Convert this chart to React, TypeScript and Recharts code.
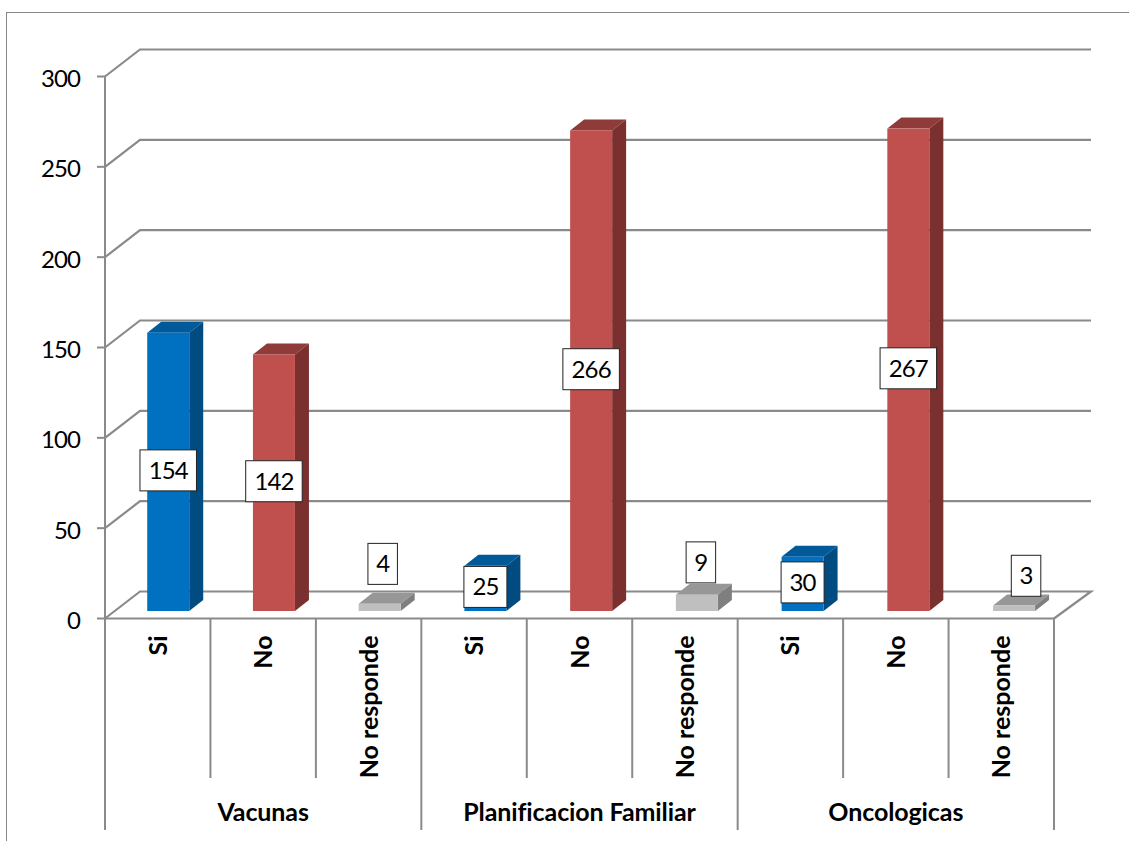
import React from "react";
import { ComposedChart, Bar, XAxis, YAxis, CartesianGrid, LabelList } from "recharts";

const answers = ["Si", "No", "No responde", "Si", "No", "No responde", "Si", "No", "No responde"];
const services = [
  "Vacunas", "Vacunas", "Vacunas",
  "Planificacion Familiar", "Planificacion Familiar", "Planificacion Familiar",
  "Oncologicas", "Oncologicas", "Oncologicas",
];
const counts = [154, 142, 4, 25, 266, 9, 30, 267, 3];
const valueTicks = [0, 50, 100, 150, 200, 250, 300];

const rows = answers.map((answer, i) => ({
  id: i,
  answer,
  service: services[i],
  count: counts[i],
}));

const WIDTH = 1129;
const HEIGHT = 841;
const PLOT_LEFT = 105;
const PLOT_RIGHT = 1054;
const PLOT_TOP = 76.5;
const PLOT_BOTTOM = 618.5;
const SLOT = (PLOT_RIGHT - PLOT_LEFT) / answers.length;

// Oblique projection of the chart's floor and back wall
const WALL_DX = 35;
const WALL_DY = 27;
// Where a column stands on the floor, relative to the front edge;
// the floor is a little wider than the front edge, hence the drift
const BAR_DX = 10.5;
const BAR_DRIFT = 0.0027;
const BAR_DY = 7.5;
// Extrusion of each column
const DEPTH_DX = 14;
const DEPTH_DY = 11;

const AXIS_COLOR = "#8a8a8a";
const FONT = "Lato, Carlito, sans-serif";
const DIGIT_SPACING = -0.9;

const palette: Record<string, { front: string; top: string; side: string }> = {
  Si: { front: "#0070c0", top: "#005a9a", side: "#004b80" },
  No: { front: "#c0504d", top: "#8f3b39", side: "#7a302e" },
  "No responde": { front: "#bfbfbf", top: "#979797", side: "#7f7f7f" },
};

// Boxes of the very short columns sit off to the side and above the column
const labelNudge: Record<number, [number, number]> = {
  2: [3, -43.5],
  5: [4, -40.5],
  8: [12, -32.5],
};

const floorX = (x: number) => x + BAR_DX + (x - PLOT_LEFT) * BAR_DRIFT;

function Column(props: any) {
  const { x, y, width, height, payload } = props;
  const c = palette[payload.answer];
  const l = floorX(x);
  const r = l + width;
  const t = y - BAR_DY;
  const b = t + height;
  return (
    <g>
      <polygon
        points={`${l},${t} ${l + DEPTH_DX},${t - DEPTH_DY} ${r + DEPTH_DX},${t - DEPTH_DY} ${r},${t}`}
        fill={c.top}
      />
      <polygon
        points={`${r},${t} ${r + DEPTH_DX},${t - DEPTH_DY} ${r + DEPTH_DX},${b - DEPTH_DY} ${r},${b}`}
        fill={c.side}
      />
      <rect x={l} y={t} width={width} height={height} fill={c.front} />
    </g>
  );
}

function ValueBox(props: any) {
  const { x, y, width, height, value, index } = props;
  const [nx, ny] = labelNudge[index] ?? [0, -1.5];
  const cx = floorX(x) + width / 2 + nx;
  const cy = y - BAR_DY + height / 2 + ny;
  const text = String(value);
  const w = 16 + 13.5 * text.length;
  const h = 41;
  return (
    <g>
      <rect
        x={cx - w / 2}
        y={cy - h / 2}
        width={w}
        height={h}
        fill="#ffffff"
        stroke="#222222"
        strokeWidth={1}
      />
      <text
        x={cx}
        y={cy + 8.5}
        textAnchor="middle"
        fontFamily={FONT}
        fontSize={24}
        letterSpacing={DIGIT_SPACING}
        fill="#000000"
      >
        {text}
      </text>
    </g>
  );
}

// A horizontal rule on the back wall, joined to the value axis by a slanted segment
function GridRule(props: any) {
  const { y1 } = props;
  const isFloor = Math.abs(y1 - PLOT_BOTTOM) < 1;
  const back = y1 - WALL_DY;
  const points = [
    `${PLOT_LEFT},${y1}`,
    `${PLOT_LEFT + WALL_DX},${back}`,
    `${PLOT_RIGHT + WALL_DX + 2},${back}`,
  ];
  if (isFloor) points.push(`${PLOT_RIGHT},${y1}`);
  return <polyline points={points.join(" ")} fill="none" stroke={AXIS_COLOR} strokeWidth={2.2} />;
}

function ValueTick(props: any) {
  const { y, payload } = props;
  return (
    <g>
      <line x1={PLOT_LEFT - 8} x2={PLOT_LEFT} y1={y} y2={y} stroke={AXIS_COLOR} strokeWidth={2} />
      <text
        x={80}
        y={y + 10.5}
        textAnchor="end"
        fontFamily={FONT}
        fontSize={24}
        letterSpacing={DIGIT_SPACING}
        fill="#000000"
      >
        {payload.value}
      </text>
    </g>
  );
}

function AnswerTick(props: any) {
  const { x, payload, index } = props;
  const top = PLOT_BOTTOM + 17;
  const edge = x + SLOT / 2;
  return (
    <g>
      {index % 3 !== 2 && (
        <line x1={edge} x2={edge} y1={PLOT_BOTTOM} y2={778} stroke={AXIS_COLOR} strokeWidth={2} />
      )}
      <text
        transform={`translate(${x + 9},${top}) rotate(-90)`}
        textAnchor="end"
        fontFamily={FONT}
        fontWeight={700}
        fontSize={25}
        fill="#000000"
      >
        {payload.value}
      </text>
    </g>
  );
}

function ServiceTick(props: any) {
  const { x, payload, index } = props;
  const half = (SLOT * 3) / 2;
  return (
    <g>
      <line x1={x - half} x2={x - half} y1={PLOT_BOTTOM} y2={830} stroke={AXIS_COLOR} strokeWidth={2} />
      {index === 2 && (
        <line x1={x + half} x2={x + half} y1={PLOT_BOTTOM} y2={830} stroke={AXIS_COLOR} strokeWidth={2} />
      )}
      <text
        x={x}
        y={821}
        textAnchor="middle"
        fontFamily={FONT}
        fontWeight={700}
        fontSize={25}
        letterSpacing={-0.1}
        fill="#000000"
      >
        {payload.value}
      </text>
    </g>
  );
}

export default function App() {
  return (
    <div style={{ position: "absolute", left: 0, top: 0, width: WIDTH, height: HEIGHT, overflow: "hidden" }}>
      <div
        style={{
          position: "absolute",
          left: 6,
          top: 12,
          width: WIDTH,
          height: HEIGHT,
          borderLeft: "1px solid #868686",
          borderTop: "1px solid #868686",
        }}
      />
      <ComposedChart
        width={WIDTH}
        height={HEIGHT}
        data={rows}
        barCategoryGap="30%"
        margin={{ top: PLOT_TOP, right: WIDTH - PLOT_RIGHT, bottom: 1, left: 0 }}
        style={{ position: "absolute", left: 0, top: 0 }}
      >
        <CartesianGrid vertical={false} horizontal={(p: any) => <GridRule {...p} />} />
        <XAxis
          dataKey="answer"
          xAxisId={0}
          height={160}
          interval={0}
          axisLine={{ stroke: AXIS_COLOR, strokeWidth: 2 }}
          tickLine={false}
          tick={(p: any) => <AnswerTick {...p} />}
        />
        <XAxis
          dataKey="service"
          xAxisId="services"
          height={61.5}
          interval={0}
          allowDuplicatedCategory={false}
          axisLine={false}
          tickLine={false}
          tick={(p: any) => <ServiceTick {...p} />}
        />
        <YAxis
          width={PLOT_LEFT}
          domain={[0, 300]}
          ticks={valueTicks}
          interval={0}
          axisLine={{ stroke: AXIS_COLOR, strokeWidth: 2 }}
          tickLine={false}
          tick={(p: any) => <ValueTick {...p} />}
        />
        <Bar dataKey="count" xAxisId={0} isAnimationActive={false} shape={(p: any) => <Column {...p} />}>
          <LabelList dataKey="count" content={(p: any) => <ValueBox {...p} />} />
        </Bar>
      </ComposedChart>
    </div>
  );
}
